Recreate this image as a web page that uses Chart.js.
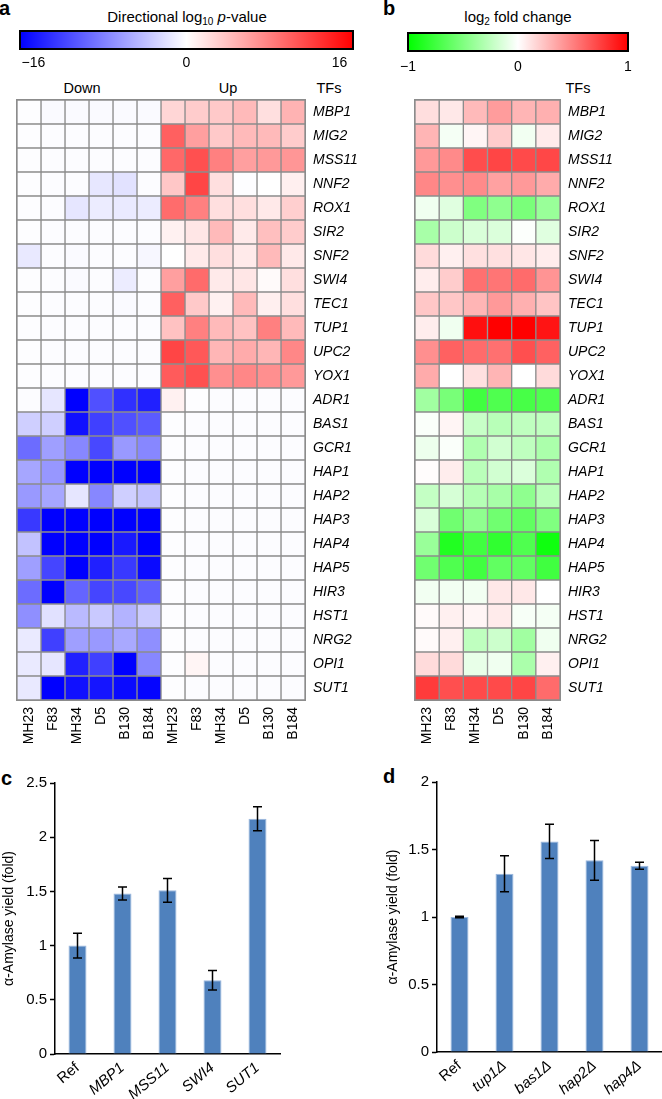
<!DOCTYPE html>
<html lang="en">
<head>
<meta charset="UTF-8">
<title>TF heatmaps and alpha-amylase yield</title>
<style>
  body { margin: 0; background: #fff; font-family: "Liberation Sans", Arial, Helvetica, sans-serif; color: #000; }
  .fig { position: relative; width: 662px; height: 1099px; overflow: hidden; }
  .fig canvas { position: absolute; }
  .lbl { position: absolute; font-size: 14.5px; white-space: nowrap; line-height: 1; transform: translate(-50%, -50%); }
  .letter { position: absolute; font-weight: bold; font-size: 20px; line-height: 1; }
  sub { font-size: 10px; vertical-align: -3px; line-height: 0; }
</style>
</head>
<body>
<div class="fig">
  <div class="letter" style="left:-1px;top:-2px">a</div>
  <div class="letter" style="left:383px;top:-2px">b</div>
  <div class="letter" style="left:1px;top:768px">c</div>
  <div class="letter" style="left:383px;top:766px">d</div>

  <div class="lbl" style="left:187px;top:16px;font-size:15px">Directional log<sub>10</sub> <i>p</i>-value</div>
  <div class="lbl" style="left:518px;top:16px;font-size:15px">log<sub>2</sub> fold change</div>
  <div class="lbl" style="left:82px;top:88px">Down</div>
  <div class="lbl" style="left:228px;top:88px">Up</div>
  <div class="lbl" style="left:329px;top:88px">TFs</div>
  <div class="lbl" style="left:578px;top:88px">TFs</div>

  <canvas id="cbA" width="370" height="50" style="left:0;top:25px"></canvas>
  <canvas id="cbB" width="262" height="50" style="left:390px;top:27px"></canvas>
  <canvas id="heatA" width="370" height="665" style="left:0;top:95px"></canvas>
  <canvas id="heatB" width="262" height="665" style="left:400px;top:95px"></canvas>
  <canvas id="barC" width="300" height="329" style="left:0;top:770px"></canvas>
  <canvas id="barD" width="287" height="329" style="left:375px;top:770px"></canvas>
</div>

<script src="https://cdn.jsdelivr.net/npm/chart.js@4.4.9/dist/chart.umd.min.js"></script>
<script>
// ---- data ----
const tfs = ['MBP1', 'MIG2', 'MSS11', 'NNF2', 'ROX1', 'SIR2', 'SNF2', 'SWI4', 'TEC1', 'TUP1', 'UPC2', 'YOX1',
    'ADR1', 'BAS1', 'GCR1', 'HAP1', 'HAP2', 'HAP3', 'HAP4', 'HAP5', 'HIR3', 'HST1', 'NRG2', 'OPI1', 'SUT1'];
const strains = ['MH23', 'F83', 'MH34', 'D5', 'B130', 'B184'];

// directional log10 p-value, "Down" columns (one row per TF)
const downP = [
    [-0.1, -0.3, -0.3, -0.3, -0.3, -0.3],
    [-0.1, -0.2, -0.2, -0.2, -0.2, -0.2],
    [-0.1, -0.2, -0.2, -0.2, -0.2, -0.2],
    [-0.1, -0.2, -0.2, -1.5, -1.8, -0.2],
    [-0.1, -0.2, -1.6, -1.2, -1.3, -1.2],
    [-0.1, -0.2, -0.2, -0.2, -0.2, -0.2],
    [-1.4, -0.2, -0.3, -0.2, -0.2, -0.5],
    [-0.1, -0.2, -0.3, -0.2, -1.2, -0.2],
    [-0.1, -0.2, -0.2, -0.2, -0.3, -0.2],
    [-0.1, -0.2, -0.2, -0.2, -0.2, -0.2],
    [-0.1, -0.2, -0.2, -0.2, -0.2, -0.2],
    [-0.1, -0.2, -0.2, -0.2, -0.2, -0.2],
    [-0.2, -1.6, -16, -11, -13, -14],
    [-3, -3, -15, -12, -11, -10.3],
    [-9.2, -6, -7.5, -11.5, -6.4, -7.5],
    [-5.6, -6.5, -16, -16, -16, -16],
    [-6.4, -5.6, -1.6, -7.5, -3, -3.8],
    [-12.4, -16, -16, -16, -16, -16],
    [-3.8, -16, -16, -16, -14.4, -16],
    [-6, -11.7, -16, -14, -12.4, -15.4],
    [-9.2, -16, -9.7, -11.7, -11.5, -10],
    [-7, -1.9, -4.3, -3.4, -4.8, -3.3],
    [-1.3, -12, -6, -6.4, -5.4, -7],
    [-1.3, -1.6, -14, -12, -16, -7.5],
    [-1.4, -16, -15, -14.7, -15.4, -15.7]
];

// directional log10 p-value, "Up" columns
const upP = [
    [2.6, 3.2, 3.4, 4.3, 2.0, 4.8],
    [10, 6, 3.4, 4.3, 4.3, 3.2],
    [9.5, 11, 8, 6, 6.4, 6.6],
    [3.5, 11.7, 2, -0.1, 0, 1],
    [9.2, 8, 2, 2, 1.4, 3],
    [0.9, 1.6, 4.3, 1.3, 4, 3.2],
    [0, 1.3, 2, 1.3, 4.3, 1.4],
    [6, 9.3, 1.3, 1.6, 0.3, 2],
    [10, 3.4, 0.9, 4.3, 1, 2],
    [3.8, 8, 4.3, 3.8, 8, 4.3],
    [11.7, 10.5, 4.6, 5.3, 4.6, 7.5],
    [10.3, 11, 7, 7.5, 7, 6.4],
    [0.9, -0.1, -0.2, -0.2, -0.2, -0.2],
    [-0.1, -0.2, -0.2, -0.2, -0.2, -0.2],
    [-0.1, -0.2, -0.2, -0.2, -0.2, -0.2],
    [-0.1, -0.2, -0.2, -0.2, -0.2, -0.2],
    [-0.1, -0.2, -0.2, -0.2, -0.2, -0.2],
    [-0.1, -0.2, -0.2, -0.2, -0.2, -0.2],
    [-0.1, -0.2, -0.2, -0.2, -0.2, -0.2],
    [-0.1, -0.2, -0.2, -0.2, -0.2, -0.2],
    [-0.1, -0.2, -0.2, -0.2, -0.2, -0.2],
    [-0.1, -0.2, -0.2, -0.2, -0.2, -0.2],
    [-0.1, -0.2, -0.2, -0.2, -0.2, -0.2],
    [-0.1, 0.6, -0.2, -0.2, -0.2, -0.2],
    [-0.1, -0.2, -0.2, -0.2, -0.2, -0.2]
];

// log2 fold change
const log2FC = [
    [0.13, 0.09, 0.27, 0.39, 0.29, 0.31],
    [0.29, -0.04, 0.04, 0.2, -0.05, 0.08],
    [0.4, 0.46, 0.7, 0.73, 0.71, 0.72],
    [0.47, 0.44, 0.46, 0.37, 0.4, 0.33],
    [-0.06, -0.12, -0.5, -0.44, -0.52, -0.4],
    [-0.34, -0.2, -0.15, -0.14, -0.01, -0.12],
    [0.14, 0.06, 0.12, 0.12, 0.1, 0.07],
    [0.07, 0.2, 0.56, 0.54, 0.58, 0.42],
    [0.22, 0.22, 0.29, 0.4, 0.31, 0.23],
    [0.07, -0.06, 0.94, 1.0, 1.0, 0.92],
    [0.44, 0.62, 0.58, 0.56, 0.69, 0.62],
    [0.33, 0, 0.12, 0.29, 0, 0.14],
    [-0.37, -0.53, -0.75, -0.69, -0.72, -0.69],
    [-0.02, 0.04, -0.22, -0.28, -0.25, -0.25],
    [-0.07, -0.02, -0.31, -0.18, -0.25, -0.33],
    [0.01, 0.07, -0.27, -0.18, -0.14, -0.31],
    [-0.23, -0.16, -0.29, -0.34, -0.44, -0.27],
    [-0.15, -0.56, -0.44, -0.56, -0.62, -0.5],
    [-0.4, -0.87, -0.75, -0.81, -0.69, -0.94],
    [-0.56, -0.69, -0.75, -0.62, -0.62, -0.75],
    [-0.05, -0.05, -0.05, 0.09, 0.09, 0],
    [0.02, 0.06, 0.04, 0.08, -0.03, -0.04],
    [0.02, 0.06, -0.25, -0.2, -0.37, -0.06],
    [0.14, 0.14, -0.09, -0.06, -0.33, 0.06],
    [0.77, 0.69, 0.71, 0.71, 0.73, 0.58]
];

// panel c
const cLabels = ['Ref', 'MBP1', 'MSS11', 'SWI4', 'SUT1'];
const cYield = [1.0, 1.48, 1.51, 0.68, 2.17];
const cErr = [0.115, 0.06, 0.11, 0.09, 0.11];

// panel d
const dLabels = ['Ref', 'tup1\u0394', 'bas1\u0394', 'hap2\u0394', 'hap4\u0394'];
const dYield = [1.0, 1.32, 1.56, 1.42, 1.38];
const dErr = [0.005, 0.133, 0.127, 0.147, 0.026];

// ---- setup ----
const FONT = '"Liberation Sans", Arial, Helvetica, sans-serif';
Chart.defaults.font.family = FONT;
Chart.defaults.color = '#000';
Chart.defaults.animation = false;

function blueWhiteRed(v) {
    const t = Math.min(Math.abs(v) / 16, 1);
    const c = Math.round(255 * (1 - t));
    return v >= 0 ? `rgb(255,${c},${c})` : `rgb(${c},${c},255)`;
}

function greenWhiteRed(v) {
    const t = Math.min(Math.abs(v), 1);
    const c = Math.round(255 * (1 - t));
    return v >= 0 ? `rgb(255,${c},${c})` : `rgb(${c},255,${c})`;
}

function minusFmt(v) {
    return v < 0 ? '\u2212' + Math.abs(v) : String(v);
}

function colorBar(id, min, max, tickVals, stops, padL, padR, labelPad) {
    new Chart(document.getElementById(id), {
        type: 'scatter',
        data: { datasets: [] },
        options: {
            responsive: false,
            layout: { padding: { left: padL, right: padR, top: 6, bottom: 0 } },
            plugins: { legend: { display: false }, tooltip: { enabled: false } },
            scales: {
                x: {
                    type: 'linear', min, max,
                    afterBuildTicks: s => { s.ticks = tickVals.map(v => ({ value: v })); },
                    afterFit: s => { s.height = 26; s.paddingLeft = 0; s.paddingRight = 0; },
                    grid: { display: false, drawTicks: false },
                    border: { display: false },
                    ticks: { padding: labelPad, font: { size: 14 }, maxRotation: 0, autoSkip: false, callback: minusFmt }
                },
                y: { display: false }
            }
        },
        plugins: [{
            id: 'cbar',
            beforeDatasetsDraw(chart) {
                const { ctx, chartArea: a } = chart;
                const g = ctx.createLinearGradient(a.left, 0, a.right, 0);
                stops.forEach((c, i) => g.addColorStop(i / (stops.length - 1), c));
                ctx.save();
                ctx.fillStyle = g;
                ctx.fillRect(a.left, a.top, a.right - a.left, a.bottom - a.top);
                ctx.strokeStyle = '#000';
                ctx.lineWidth = 2;
                ctx.strokeRect(a.left, a.top, a.right - a.left, a.bottom - a.top);
                ctx.restore();
            }
        }]
    });
}

function heatmap(id, cols, rowValues, colorFn, padL, yWidth) {
    const datasets = cols.map((name, c) => ({
        label: name,
        data: tfs.map(() => [c, c + 1]),
        backgroundColor: rowValues.map(row => colorFn(row[c])),
        borderColor: '#8c8c8c',
        borderWidth: 1,
        borderSkipped: false,
        barPercentage: 1,
        categoryPercentage: 1,
        grouped: false
    }));

    new Chart(document.getElementById(id), {
        type: 'bar',
        data: { labels: tfs, datasets },
        options: {
            responsive: false,
            indexAxis: 'y',
            layout: { padding: { left: padL, top: 5, right: 0, bottom: 0 } },
            plugins: { legend: { display: false }, tooltip: { enabled: false } },
            scales: {
                x: {
                    type: 'linear', position: 'bottom', min: 0, max: cols.length,
                    afterBuildTicks: s => { s.ticks = cols.map((_, i) => ({ value: i + 0.5 })); },
                    afterFit: s => { s.height = 60; s.paddingLeft = 0; s.paddingRight = 0; },
                    grid: { display: false, drawTicks: false },
                    border: { display: false },
                    ticks: {
                        autoSkip: false, minRotation: 90, maxRotation: 90, padding: 7,
                        font: { size: 14 },
                        callback: v => cols[Math.floor(v)]
                    }
                },
                y: {
                    type: 'category', position: 'right', offset: true,
                    afterFit: s => { s.width = yWidth; s.paddingTop = 0; s.paddingBottom = 0; },
                    grid: { display: false, drawTicks: false },
                    border: { display: false },
                    ticks: { autoSkip: false, padding: 8, font: { size: 14, style: 'italic' } }
                }
            }
        },
        plugins: [{
            id: 'frame',
            afterDatasetsDraw(chart) {
                const { ctx, chartArea: a } = chart;
                ctx.save();
                ctx.strokeStyle = '#8c8c8c';
                ctx.lineWidth = 1;
                ctx.strokeRect(a.left - 0.5, a.top - 0.5, a.right - a.left + 1, a.bottom - a.top + 1);
                ctx.restore();
            }
        }]
    });
}

const errorBars = {
    id: 'errorBars',
    afterDatasetsDraw(chart, args, opts) {
        const { ctx } = chart;
        const yScale = chart.scales.y;
        const meta = chart.getDatasetMeta(0);
        const vals = chart.data.datasets[0].data;
        ctx.save();
        ctx.strokeStyle = '#000';
        ctx.lineWidth = 1.5;
        meta.data.forEach((bar, i) => {
            const e = opts.errors[i];
            const yTop = yScale.getPixelForValue(vals[i] + e);
            const yBot = yScale.getPixelForValue(vals[i] - e);
            ctx.beginPath();
            ctx.moveTo(bar.x, yTop); ctx.lineTo(bar.x, yBot);
            ctx.moveTo(bar.x - 4.5, yTop); ctx.lineTo(bar.x + 4.5, yTop);
            ctx.moveTo(bar.x - 4.5, yBot); ctx.lineTo(bar.x + 4.5, yBot);
            ctx.stroke();
        });
        ctx.restore();
    }
};

function barChart(id, labels, values, errors, yMax, pad, yWidth, xHeight, titlePad) {
    new Chart(document.getElementById(id), {
        type: 'bar',
        data: {
            labels,
            datasets: [{
                data: values,
                backgroundColor: '#4f81bd',
                borderColor: '#9db9df',
                borderWidth: 1,
                barPercentage: 0.4,
                categoryPercentage: 1
            }]
        },
        options: {
            responsive: false,
            layout: { padding: pad },
            plugins: { legend: { display: false }, tooltip: { enabled: false }, errorBars: { errors } },
            scales: {
                x: {
                    afterFit: s => { s.height = xHeight; s.paddingLeft = 0; s.paddingRight = 0; },
                    grid: { display: false, drawTicks: false },
                    border: { display: true, color: '#000', width: 1.5 },
                    ticks: {
                        autoSkip: false, minRotation: 40, maxRotation: 40, padding: 5,
                        font: ctx => ({ size: 15, style: ctx.index === 0 ? 'normal' : 'italic' })
                    }
                },
                y: {
                    min: 0, max: yMax,
                    afterFit: s => { s.width = yWidth; s.paddingTop = 0; s.paddingBottom = 0; },
                    grid: { drawOnChartArea: false, drawTicks: true, tickLength: 5, color: '#000', tickColor: '#000', tickWidth: 1.5 },
                    border: { display: true, color: '#000', width: 1.5 },
                    ticks: { stepSize: 0.5, padding: 3, font: { size: 15 }, callback: v => String(Math.round(v * 10) / 10) },
                    title: { display: true, text: '\u03b1-Amylase yield (fold)', font: { size: 14 }, padding: { top: titlePad, bottom: 0 } }
                }
            }
        },
        plugins: [errorBars]
    });
}

colorBar('cbA', -17.4, 17.4, [-16, 0, 16], ['#0000ff', '#ffffff', '#ff0000'], 20, 17, 6);
colorBar('cbB', -1, 1, [-1, 0, 1], ['#00ff00', '#ffffff', '#ff0000'], 18, 24, 8);

heatmap('heatA', strains.concat(strains), downP.map((r, i) => r.concat(upP[i])), blueWhiteRed, 17, 65);
heatmap('heatB', strains, log2FC, greenWhiteRed, 15, 102);

barChart('barC', cLabels, cYield, cErr, 2.5, { left: 0, top: 13, right: 20, bottom: 0 }, 55, 45, 1);
barChart('barD', dLabels, dYield, dErr, 2, { left: 0, top: 12, right: 0, bottom: 0 }, 62, 47, 10);
</script>
</body>
</html>
